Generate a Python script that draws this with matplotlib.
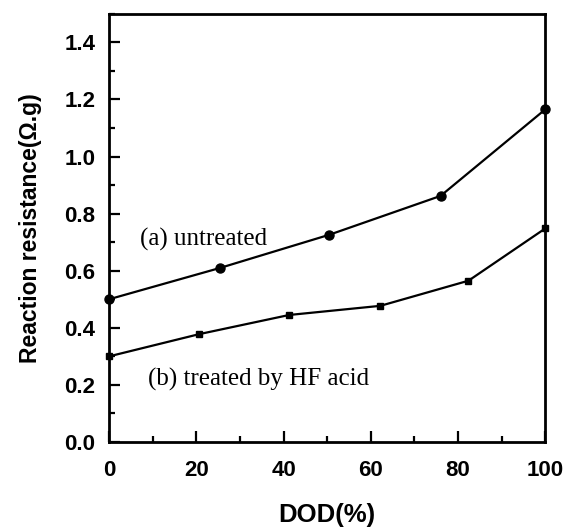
import matplotlib
matplotlib.use("Agg")
import matplotlib.pyplot as plt
from matplotlib.ticker import MultipleLocator

# Data --------------------------------------------------------------------
dod_a = [0, 25.5, 50.5, 76, 100]
res_a = [0.50, 0.61, 0.726, 0.862, 1.165]

dod_b = [0, 20.7, 41.3, 62.2, 82.4, 100]
res_b = [0.30, 0.378, 0.445, 0.477, 0.565, 0.748]

label_a = '(a) untreated'
label_b = '(b) treated by HF acid'

# Plot --------------------------------------------------------------------
plt.rcParams['font.family'] = ['Liberation Sans', 'DejaVu Sans']
fig = plt.figure(figsize=(5.65, 5.3), dpi=100)
ax = fig.add_axes([0.193, 0.166, 0.772, 0.808])

ax.plot(dod_a, res_a, color='black', lw=1.6, marker='o', ms=6.5, clip_on=False, zorder=3)
ax.plot(dod_b, res_b, color='black', lw=1.6, marker='s', ms=5, clip_on=False, zorder=3)

ax.text(7.1, 0.709, label_a, family='Liberation Serif', fontsize=18, va='center', ha='left')
ax.text(8.9, 0.218, label_b, family='Liberation Serif', fontsize=18, va='center', ha='left')

ax.set_xlim(0, 100)
ax.set_ylim(0, 1.5)
ax.xaxis.set_major_locator(MultipleLocator(20))
ax.xaxis.set_minor_locator(MultipleLocator(10))
ax.yaxis.set_major_locator(MultipleLocator(0.2))
ax.yaxis.set_minor_locator(MultipleLocator(0.1))
ax.yaxis.set_major_formatter(plt.FuncFormatter(lambda v, p: '%.1f' % v))

ax.tick_params(which='both', direction='in', top=False, right=False, width=1.6)
ax.tick_params(which='major', length=8, labelsize=16)
ax.tick_params(axis='x', which='major', pad=13)
ax.tick_params(axis='y', which='major', pad=10)
ax.tick_params(which='minor', length=4)
for lab in ax.get_xticklabels() + ax.get_yticklabels():
    lab.set_fontweight('bold')
for sp in ax.spines.values():
    sp.set_linewidth(2)

ax.set_xlabel('DOD(%)', fontsize=18.5, fontweight='bold', labelpad=16)
ax.set_ylabel('Reaction resistance(\u03a9.g)', fontsize=16.5, fontweight='bold', labelpad=16)

plt.savefig('out.png', dpi=100)
